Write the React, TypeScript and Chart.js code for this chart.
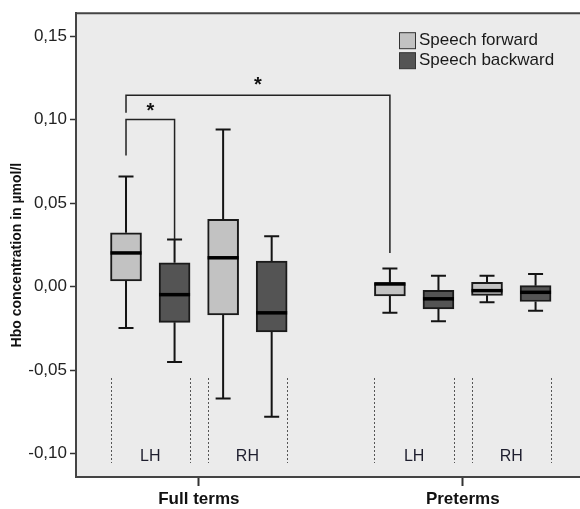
import React, { useEffect, useRef } from "react";
import { Chart, registerables } from "chart.js";

Chart.register(...registerables);

// ---------- data ----------
const groups = ["Full terms", "Preterms"];
const hemispheres = ["LH", "RH"];
const seriesNames = ["Speech forward", "Speech backward"];
const seriesColors = ["#c2c2c2", "#545454"];

// box order: Full terms LH, Full terms RH, Preterms LH, Preterms RH
const forwardMin = [-0.0248, -0.0671, -0.0157, -0.0093];
const forwardQ1 = [0.0034, -0.0169, -0.0055, -0.0052];
const forwardMedian = [0.0202, 0.0173, 0.0016, -0.0024];
const forwardQ3 = [0.0323, 0.0403, 0.0024, 0.0026];
const forwardMax = [0.066, 0.0942, 0.0109, 0.0065];

const backwardMin = [-0.0452, -0.078, -0.0208, -0.0145];
const backwardQ1 = [-0.0214, -0.0272, -0.0133, -0.0089];
const backwardMedian = [-0.0048, -0.0157, -0.0073, -0.0034];
const backwardQ3 = [0.0143, 0.0153, -0.0022, 0.0006];
const backwardMax = [0.0282, 0.0302, 0.0065, 0.0076];

const yTickValues = [-0.1, -0.05, 0, 0.05, 0.1, 0.15];
const yTickLabels = ["-0,10", "-0,05", "0,00", "0,05", "0,10", "0,15"];
const yTitle = "Hbo concentration in µmol/l";

// significance brackets: from box -> to box (group, hemisphere, series)
const bracketFrom = [[0, 0, 0], [0, 0, 0]];
const bracketTo = [[0, 0, 1], [1, 0, 0]];
const bracketLeftStart = [0.0786, 0.1042];
const bracketTop = [0.1002, 0.1147];
const bracketRightEnd = [0.0282, 0.0202];
const bracketLabels = ["*", "*"];

// ---------- layout config ----------
const FONT = "'Liberation Sans', Arial, Helvetica, sans-serif";
const GROUP_START = [0, 5.435];
const X_MIN = -1.03;
const X_MAX = 9.35;
const BOX_W = 31;

const stats = [
  { min: forwardMin, q1: forwardQ1, med: forwardMedian, q3: forwardQ3, max: forwardMax },
  { min: backwardMin, q1: backwardQ1, med: backwardMedian, q3: backwardQ3, max: backwardMax },
];

const slotX = (g: number, h: number, s: number) => GROUP_START[g] + h * 2 + s;
const groupCenter = (g: number) => GROUP_START[g] + 1.5;

const decorPlugin = {
  id: "decor",
  beforeDraw(chart: any) {
    const { ctx, chartArea: a } = chart;
    ctx.save();
    ctx.fillStyle = "#ffffff";
    ctx.fillRect(0, 0, chart.width, chart.height);
    ctx.fillStyle = "#ebebeb";
    ctx.fillRect(a.left, a.top, a.right - a.left, a.bottom - a.top);
    ctx.restore();
  },
  afterDatasetsDraw(chart: any) {
    const { ctx, scales } = chart;
    const y = scales.y;
    ctx.save();
    stats.forEach((st, s) => {
      const meta = chart.getDatasetMeta(s);
      meta.data.forEach((bar: any, i: number) => {
        const cx = bar.x;
        const half = bar.width / 2;
        const capHalf = 7.5;
        ctx.strokeStyle = "#141414";
        ctx.lineWidth = 2;
        ctx.beginPath();
        ctx.moveTo(cx, y.getPixelForValue(st.max[i]));
        ctx.lineTo(cx, y.getPixelForValue(st.q3[i]));
        ctx.moveTo(cx, y.getPixelForValue(st.q1[i]));
        ctx.lineTo(cx, y.getPixelForValue(st.min[i]));
        ctx.moveTo(cx - capHalf, y.getPixelForValue(st.max[i]));
        ctx.lineTo(cx + capHalf, y.getPixelForValue(st.max[i]));
        ctx.moveTo(cx - capHalf, y.getPixelForValue(st.min[i]));
        ctx.lineTo(cx + capHalf, y.getPixelForValue(st.min[i]));
        ctx.stroke();
        ctx.lineWidth = 3.5;
        ctx.strokeStyle = "#000000";
        ctx.beginPath();
        const my = y.getPixelForValue(st.med[i]);
        ctx.moveTo(cx - half, my);
        ctx.lineTo(cx + half, my);
        ctx.stroke();
      });
    });
    ctx.restore();
  },
  afterDraw(chart: any) {
    const { ctx, chartArea: a, scales } = chart;
    const x = scales.x;
    const y = scales.y;
    ctx.save();
    // top border
    ctx.strokeStyle = "#444444";
    ctx.lineWidth = 2;
    ctx.beginPath();
    ctx.moveTo(a.left - 1, a.top);
    ctx.lineTo(a.right, a.top);
    ctx.stroke();

    // hemisphere separators and labels
    groups.forEach((_, g) => {
      hemispheres.forEach((hLabel, h) => {
        const l = x.getPixelForValue(slotX(g, h, 0)) - BOX_W / 2;
        const r = x.getPixelForValue(slotX(g, h, 1)) + BOX_W / 2;
        ctx.strokeStyle = "#555555";
        ctx.lineWidth = 1;
        ctx.setLineDash([2, 2]);
        ctx.beginPath();
        ctx.moveTo(Math.round(l) + 0.5, a.bottom - 99);
        ctx.lineTo(Math.round(l) + 0.5, a.bottom - 14);
        ctx.moveTo(Math.round(r) + 0.5, a.bottom - 99);
        ctx.lineTo(Math.round(r) + 0.5, a.bottom - 14);
        ctx.stroke();
        ctx.setLineDash([]);
        ctx.fillStyle = "#1e1e2e";
        ctx.font = `16px ${FONT}`;
        ctx.textAlign = "center";
        ctx.textBaseline = "middle";
        ctx.fillText(hLabel, (l + r) / 2, a.bottom - 20);
      });
    });

    // brackets
    bracketFrom.forEach((from, k) => {
      const to = bracketTo[k];
      const x1 = x.getPixelForValue(slotX(from[0], from[1], from[2]));
      const x2 = x.getPixelForValue(slotX(to[0], to[1], to[2]));
      const yTop = y.getPixelForValue(bracketTop[k]);
      ctx.strokeStyle = "#222222";
      ctx.lineWidth = 1.5;
      ctx.beginPath();
      ctx.moveTo(x1, y.getPixelForValue(bracketLeftStart[k]));
      ctx.lineTo(x1, yTop);
      ctx.lineTo(x2, yTop);
      ctx.lineTo(x2, y.getPixelForValue(bracketRightEnd[k]));
      ctx.stroke();
      ctx.fillStyle = "#111111";
      ctx.font = `bold 20px ${FONT}`;
      ctx.textAlign = "center";
      ctx.textBaseline = "alphabetic";
      ctx.fillText(bracketLabels[k], (x1 + x2) / 2, yTop - 2 - k * 2);
    });

    // legend
    chart.data.datasets.forEach((ds: any, i: number) => {
      const bx = a.right - 180.5;
      const by = a.top + 19.5 + i * 20;
      ctx.fillStyle = ds.backgroundColor;
      ctx.fillRect(bx, by, 16, 16);
      ctx.strokeStyle = "#333333";
      ctx.lineWidth = 1;
      ctx.strokeRect(bx, by, 16, 16);
      ctx.fillStyle = "#1a1a1a";
      ctx.font = `17px ${FONT}`;
      ctx.textAlign = "left";
      ctx.textBaseline = "middle";
      ctx.fillText(ds.label, bx + 19.5, by + 8);
    });

    // y title
    ctx.translate(17, (a.top + a.bottom) / 2 + 10);
    ctx.rotate(-Math.PI / 2);
    ctx.fillStyle = "#111111";
    ctx.font = `bold 14px ${FONT}`;
    ctx.textAlign = "center";
    ctx.textBaseline = "middle";
    ctx.fillText(yTitle, 0, 0);
    ctx.restore();
  },
};

export default function App() {
  const ref = useRef<HTMLCanvasElement | null>(null);
  useEffect(() => {
    if (!ref.current) return;
    const datasets = stats.map((st, s) => ({
      label: seriesNames[s],
      backgroundColor: seriesColors[s],
      borderColor: "#1a1a1a",
      borderWidth: 2,
      borderSkipped: false,
      barThickness: BOX_W,
      grouped: false,
      data: st.q1.map((q1, i) => ({
        x: slotX(Math.floor(i / 2), i % 2, s),
        y: [q1, st.q3[i]],
      })),
    }));
    const chart = new Chart(ref.current, {
      type: "bar",
      data: { datasets } as any,
      options: {
        animation: false,
        responsive: false,
        maintainAspectRatio: false,
        devicePixelRatio: 1,
        layout: { padding: { top: 10, left: 0, right: 0, bottom: 0 } },
        plugins: { legend: { display: false }, tooltip: { enabled: false } },
        scales: {
          x: {
            type: "linear",
            min: X_MIN,
            max: X_MAX,
            offset: false,
            afterBuildTicks: (sc: any) => {
              sc.ticks = groups.map((_, g) => ({ value: groupCenter(g) }));
            },
            afterFit: (sc: any) => {
              sc.height = 32;
            },
            ticks: {
              autoSkip: false,
              maxRotation: 0,
              padding: 3,
              color: "#111111",
              font: { family: FONT, size: 17, weight: "bold" },
              callback: (_v: any, idx: number) => groups[idx],
            },
            grid: {
              offset: false,
              drawOnChartArea: false,
              drawTicks: true,
              tickLength: 9,
              tickWidth: 2,
              tickColor: "#333333",
            },
            border: { display: true, color: "#444444", width: 2 },
          },
          y: {
            type: "linear",
            min: -0.1141,
            max: 0.1639,
            afterBuildTicks: (sc: any) => {
              sc.ticks = yTickValues.map((v) => ({ value: v }));
            },
            afterFit: (sc: any) => {
              sc.width = 76;
            },
            ticks: {
              padding: 3,
              color: "#222222",
              font: { family: FONT, size: 17 },
              callback: (_v: any, idx: number) => yTickLabels[idx],
            },
            grid: {
              drawOnChartArea: false,
              drawTicks: true,
              tickLength: 6,
              tickWidth: 1.5,
              tickColor: "#333333",
            },
            border: { display: true, color: "#444444", width: 2 },
          },
        },
      } as any,
      plugins: [decorPlugin],
    });
    return () => chart.destroy();
  }, []);
  return (
    <div style={{ position: "fixed", left: 0, top: 0, width: 580, height: 509, background: "#fff" }}>
      <canvas ref={ref} width={580} height={509} style={{ width: 580, height: 509, display: "block" }} />
    </div>
  );
}
